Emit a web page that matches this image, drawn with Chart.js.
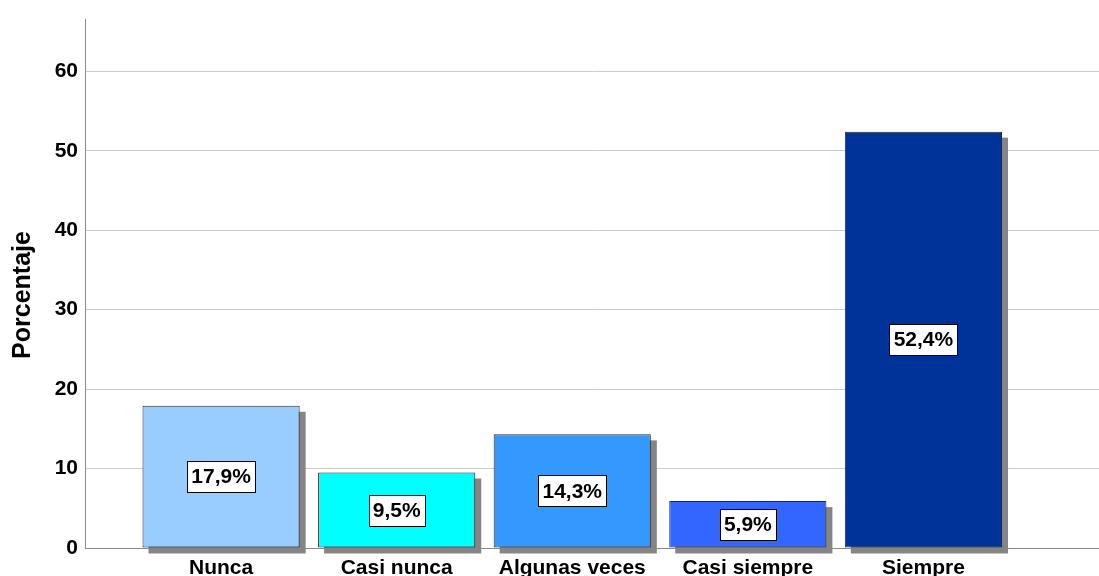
<!DOCTYPE html>
<html>
<head>
<meta charset="utf-8">
<script src="https://cdn.jsdelivr.net/npm/chart.js@4/dist/chart.umd.min.js"></script>
<style>
  html, body { margin: 0; padding: 0; background: #fff; overflow: hidden; }
  #wrap { width: 1099px; height: 600px; position: relative; }
</style>
</head>
<body>
<div id="wrap"><canvas id="chart"></canvas></div>
<script>
const categories = ['Nunca', 'Casi nunca', 'Algunas veces', 'Casi siempre', 'Siempre'];
const percentages = [17.9, 9.5, 14.3, 5.9, 52.4];
const percentLabels = ['17,9%', '9,5%', '14,3%', '5,9%', '52,4%'];
const barColors = ['#99ccff', '#00ffff', '#3399ff', '#3366ff', '#003399'];
const yTicks = [0, 10, 20, 30, 40, 50, 60];

const FONT = '"Liberation Sans", Arial, sans-serif';

// grey drop shadow behind each bar
const shadowPlugin = {
  id: 'barShadow',
  beforeDatasetsDraw(chart) {
    const ctx = chart.ctx;
    const meta = chart.getDatasetMeta(0);
    ctx.save();
    ctx.fillStyle = '#858585';
    meta.data.forEach(bar => {
      const w = bar.width;
      ctx.fillRect(bar.x - w / 2 + 6, bar.y + 6, w, bar.base - bar.y);
    });
    ctx.restore();
  }
};

// boxed value labels in the middle of each bar
const boxLabelPlugin = {
  id: 'boxLabels',
  afterDatasetsDraw(chart) {
    const ctx = chart.ctx;
    const meta = chart.getDatasetMeta(0);
    ctx.save();
    ctx.font = 'bold 21px ' + FONT;
    ctx.textAlign = 'center';
    ctx.textBaseline = 'middle';
    meta.data.forEach((bar, i) => {
      const txt = percentLabels[i];
      const cy = (bar.y + bar.base) / 2;
      const tw = ctx.measureText(txt).width;
      const bw = Math.round(tw + 8), bh = 31;
      const bx = Math.round(bar.x - bw / 2) + 0.5, by = Math.round(cy - bh / 2) + 0.5;
      ctx.fillStyle = '#fff';
      ctx.fillRect(bx, by, bw, bh);
      ctx.strokeStyle = '#000';
      ctx.lineWidth = 1;
      ctx.strokeRect(bx, by, bw, bh);
      ctx.fillStyle = '#000';
      ctx.fillText(txt, bar.x, cy + 1);
    });
    ctx.restore();
  }
};

// y axis title, centred like the original
const yTitlePlugin = {
  id: 'yTitle',
  afterDraw(chart) {
    const ctx = chart.ctx;
    ctx.save();
    ctx.translate(23, 295);
    ctx.rotate(-Math.PI / 2);
    ctx.font = 'bold 25px ' + FONT;
    ctx.fillStyle = '#000';
    ctx.textAlign = 'center';
    ctx.textBaseline = 'middle';
    ctx.fillText('Porcentaje', 0, 0);
    ctx.restore();
  }
};

const ctx = document.getElementById('chart').getContext('2d');

new Chart(ctx, {
  type: 'bar',
  data: {
    datasets: [{
      data: percentages.map((v, i) => ({ x: i, y: v })),
      backgroundColor: barColors,
      borderColor: '#2a2a2a',
      borderWidth: 1,
      borderSkipped: false,
      categoryPercentage: 1,
      barPercentage: 0.895
    }]
  },
  options: {
    responsive: true,
    maintainAspectRatio: false,
    animation: false,
    layout: { padding: { top: 15, right: 0, bottom: 0, left: 0 } },
    plugins: {
      legend: { display: false },
      tooltip: { enabled: false }
    },
    scales: {
      x: {
        type: 'linear',
        offset: false,
        min: -0.775,
        max: 5.0,
        grid: { display: false, drawTicks: false },
        border: { color: '#8a8a8a', width: 1 },
        afterBuildTicks: function(scale) {
          scale.ticks = categories.map((c, i) => ({ value: i }));
        },
        afterFit: function(scale) { scale.height = 52; },
        ticks: {
          autoSkip: false,
          maxRotation: 0,
          padding: 8,
          color: '#000',
          font: { family: FONT, size: 21, weight: 'bold' },
          callback: function(value) { return categories[value]; }
        }
      },
      y: {
        min: 0,
        max: 66.5,
        grid: { color: '#cccccc', lineWidth: 1, drawTicks: false },
        border: { color: '#8a8a8a', width: 1 },
        afterBuildTicks: function(scale) {
          scale.ticks = yTicks.map(v => ({ value: v }));
        },
        afterFit: function(scale) { scale.width = 85; },
        ticks: {
          padding: 7,
          color: '#000',
          font: { family: FONT, size: 21, weight: 'bold' }
        }
      }
    }
  },
  plugins: [shadowPlugin, boxLabelPlugin, yTitlePlugin]
});
</script>
</body>
</html>
